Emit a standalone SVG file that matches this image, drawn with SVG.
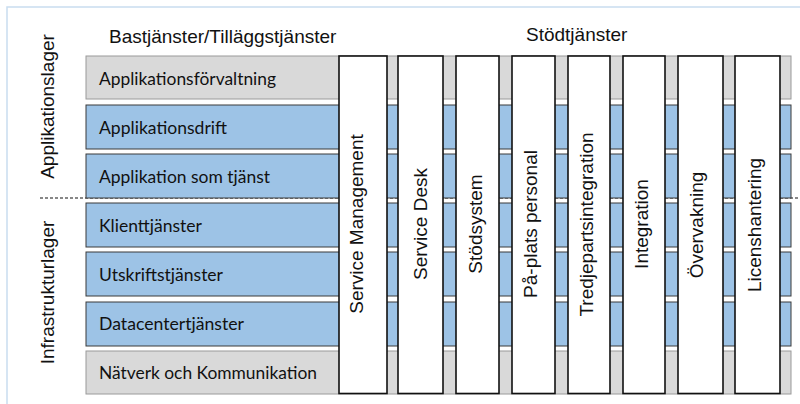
<svg xmlns="http://www.w3.org/2000/svg" width="800" height="404" viewBox="0 0 800 404">
<style>
.frame{fill:#fff;stroke:#c9ddf0;stroke-width:1.5}
.gray{fill:#d9d9d9;stroke:#9a9a9a;stroke-width:1}
.blue{fill:#9dc3e6;stroke:#3a3a3a;stroke-width:1}
.col{fill:#fff;stroke:#111;stroke-width:1.6}
.rt{font-family:Lato,"Open Sans",sans-serif;font-size:17px;fill:#111}
.vt{font-family:"Liberation Sans",Arial,sans-serif;font-size:19px;fill:#111;text-anchor:middle}
.ht{font-family:"Liberation Sans",Arial,sans-serif;font-size:19px;fill:#111}
.sep{stroke:#111;stroke-width:1;stroke-dasharray:3 2;fill:none}
</style>
<rect class="frame" x="7" y="7" width="800" height="404"/>
<g id="separators">
<line class="sep" x1="40" y1="198" x2="800" y2="198"/>
</g>
<g id="headers">
<text class="ht" x="109" y="43">Bastjänster/Tilläggstjänster</text>
<text class="ht" x="526" y="41">Stödtjänster</text>
</g>
<g id="layer-labels">
<text class="vt" transform="translate(54,106.5) rotate(-90)">Applikationslager</text>
<text class="vt" transform="translate(54,292.5) rotate(-90)">Infrastrukturlager</text>
</g>
<g id="row-applikationsforvaltning">
<rect class="gray" x="86" y="56" width="705" height="43"/>
<text class="rt" x="99" y="85" textLength="177" lengthAdjust="spacingAndGlyphs">Applikationsförvaltning</text>
</g>
<g id="row-applikationsdrift">
<rect class="blue" x="86" y="105" width="705" height="44"/>
<text class="rt" x="99" y="134" textLength="128" lengthAdjust="spacingAndGlyphs">Applikationsdrift</text>
</g>
<g id="row-applikation-som-tjanst">
<rect class="blue" x="86" y="154" width="705" height="44"/>
<text class="rt" x="99" y="183" textLength="171" lengthAdjust="spacingAndGlyphs">Applikation som tjänst</text>
</g>
<g id="row-klienttjanster">
<rect class="blue" x="86" y="203" width="705" height="44"/>
<text class="rt" x="99" y="232" textLength="103" lengthAdjust="spacingAndGlyphs">Klienttjänster</text>
</g>
<g id="row-utskriftstjanster">
<rect class="blue" x="86" y="252" width="705" height="44"/>
<text class="rt" x="99" y="281" textLength="124" lengthAdjust="spacingAndGlyphs">Utskriftstjänster</text>
</g>
<g id="row-datacentertjanster">
<rect class="blue" x="86" y="302" width="705" height="44"/>
<text class="rt" x="99" y="330" textLength="145" lengthAdjust="spacingAndGlyphs">Datacentertjänster</text>
</g>
<g id="row-natverk">
<rect class="gray" x="86" y="351" width="705" height="43"/>
<text class="rt" x="99" y="379" textLength="218" lengthAdjust="spacingAndGlyphs">Nätverk och Kommunikation</text>
</g>
<g id="col-service-management">
<rect class="col" x="339" y="56" width="48" height="337.5"/>
<text class="vt" transform="translate(363,224) rotate(-90)">Service Management</text>
</g>
<g id="col-service-desk">
<rect class="col" x="398" y="56" width="45" height="337.5"/>
<text class="vt" transform="translate(427,224) rotate(-90)">Service Desk</text>
</g>
<g id="col-stodsystem">
<rect class="col" x="456" y="56" width="43" height="337.5"/>
<text class="vt" transform="translate(482,224) rotate(-90)">Stödsystem</text>
</g>
<g id="col-paplats">
<rect class="col" x="512" y="56" width="43" height="337.5"/>
<text class="vt" transform="translate(537,224) rotate(-90)">På-plats personal</text>
</g>
<g id="col-tredjeparts">
<rect class="col" x="568" y="56" width="42" height="337.5"/>
<text class="vt" transform="translate(593,224.5) rotate(-90)">Tredjepartsintegration</text>
</g>
<g id="col-integration">
<rect class="col" x="623" y="56" width="42" height="337.5"/>
<text class="vt" transform="translate(648,224) rotate(-90)">Integration</text>
</g>
<g id="col-overvakning">
<rect class="col" x="678" y="56" width="45" height="337.5"/>
<text class="vt" transform="translate(703,225) rotate(-90)">Övervakning</text>
</g>
<g id="col-licenshantering">
<rect class="col" x="735" y="56" width="45" height="337.5"/>
<text class="vt" transform="translate(761,225) rotate(-90)">Licenshantering</text>
</g>
</svg>
